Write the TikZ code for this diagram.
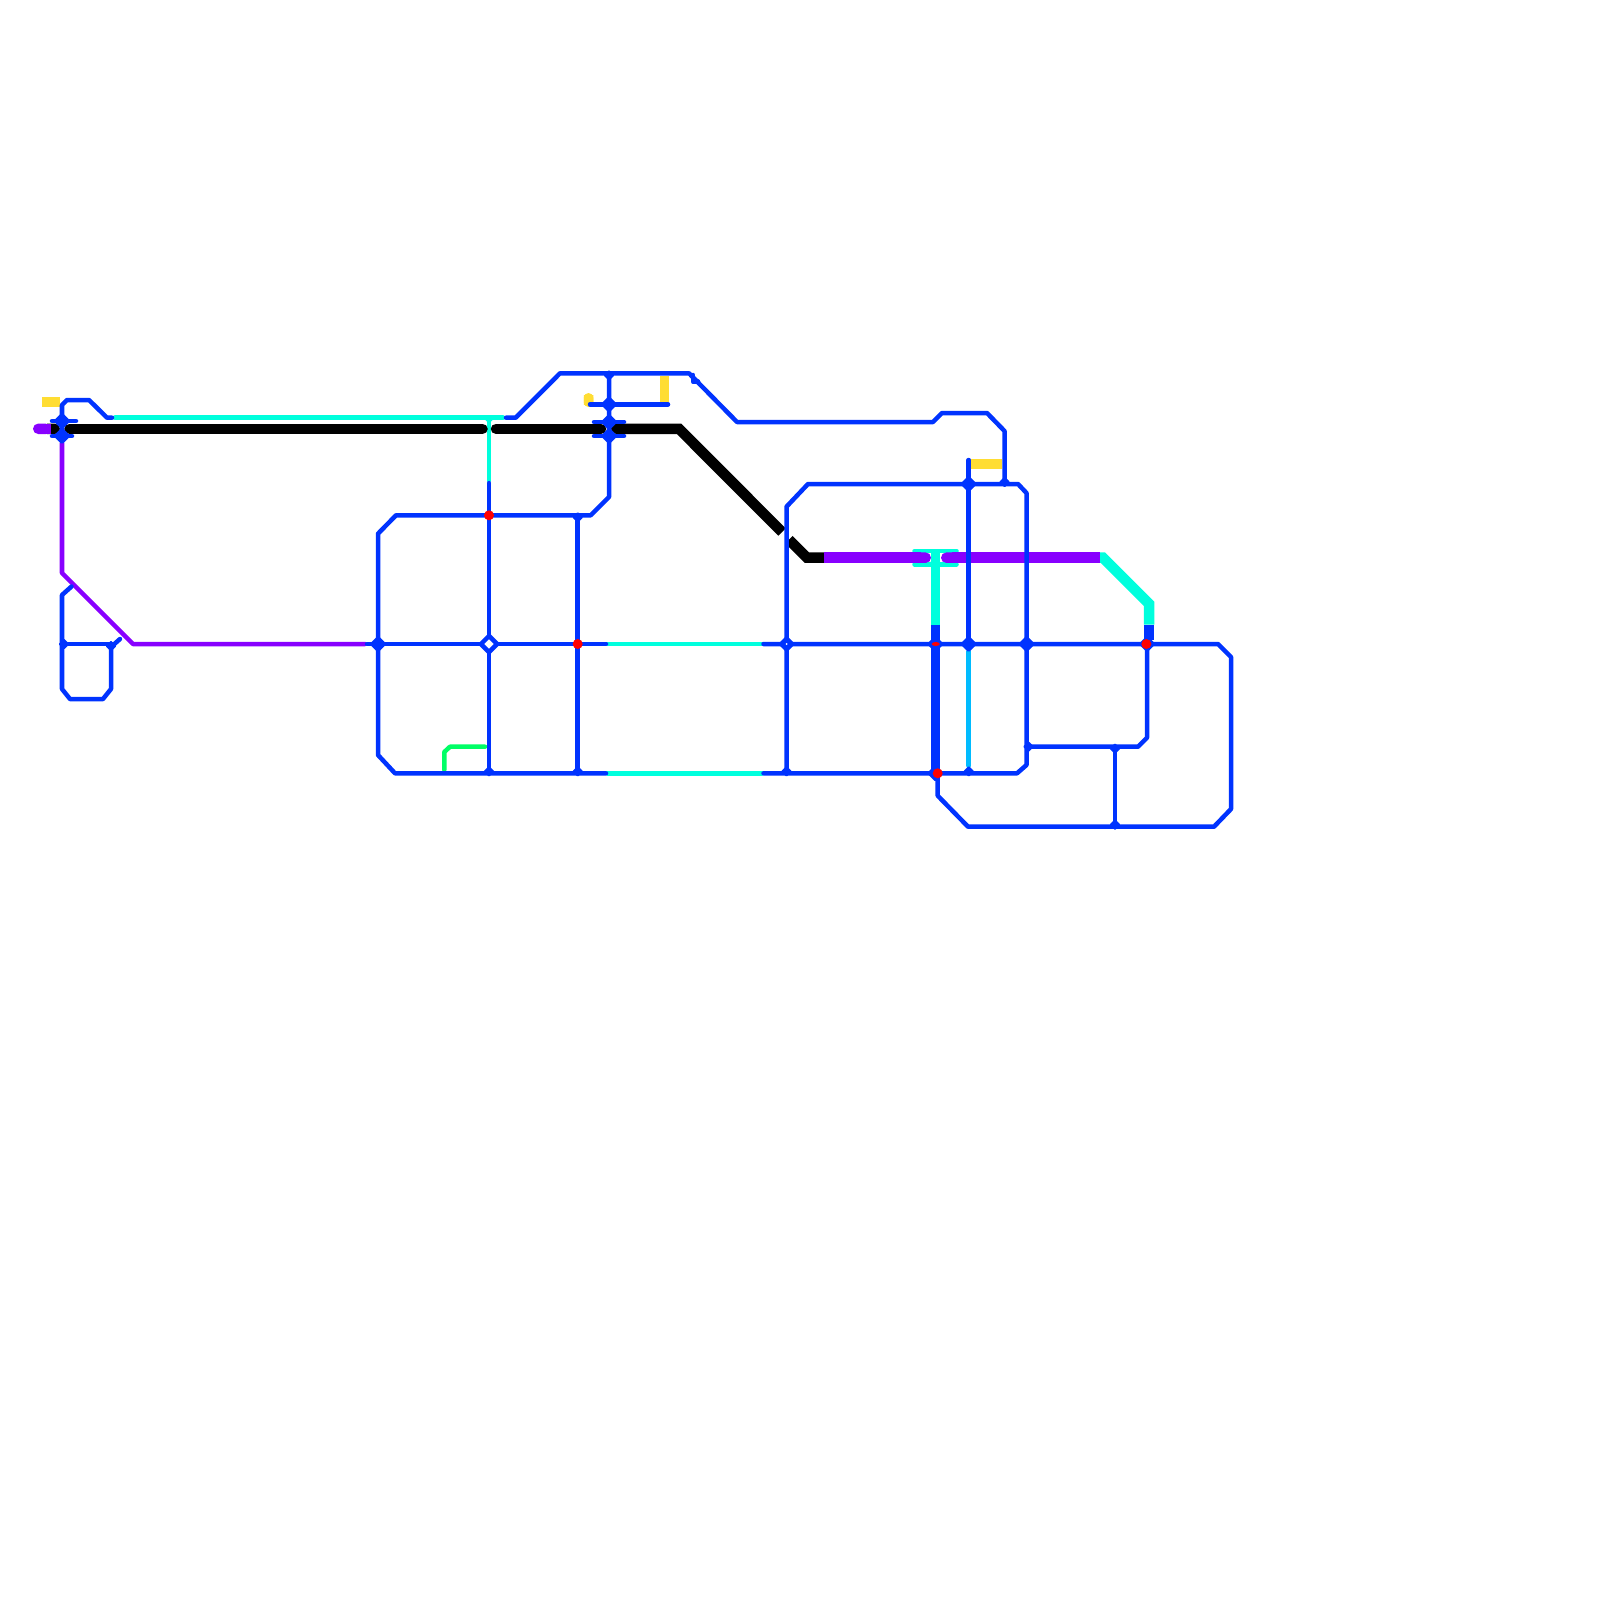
\documentclass[tikz,border=0pt]{standalone}
\usepackage{xcolor}
\usetikzlibrary{arrows.meta,shapes.geometric,backgrounds}
\definecolor{lineblue}{RGB}{0,51,255}
\definecolor{linecyan}{RGB}{0,255,221}
\definecolor{linesky}{RGB}{0,187,255}
\definecolor{linepurple}{RGB}{136,0,255}
\definecolor{lineyellow}{RGB}{255,221,51}
\definecolor{linegreen}{RGB}{0,255,102}
\definecolor{stopred}{RGB}{255,0,0}

\begin{document}
\begin{tikzpicture}[
    x=0.01cm, y=-0.01cm,
    thin line/.style={line width=0.045cm, line join=round, line cap=round},
    thick line/.style={line width=0.095cm, line join=miter},
    wide line/.style={line width=0.105cm, line join=miter},
    blue line/.style={thin line, draw=lineblue},
    junction/.style={diamond, draw=lineblue, fill=lineblue, line width=0.03cm, line join=round, inner sep=0pt, minimum size=0.14cm},
    tee/.style={diamond, draw=lineblue, fill=lineblue, line width=0.02cm, line join=round, inner sep=0pt, minimum size=0.09cm},
    redstop/.style={circle, fill=stopred, inner sep=0pt, minimum size=0.1cm}
]
    \useasboundingbox (0,0) rectangle (1600,1600);

    \node[junction] (westN) at (62,421) {};
    \node[junction] (westS) at (62,436) {};
    \node[junction] (midA) at (609,404.3) {};
    \node[junction] (midN) at (609,422) {};
    \node[junction] (midS) at (609,436) {};
    \node[redstop] (gridN) at (489,515.3) {};
    \node[junction] (gridW) at (378,644) {};
    \node[diamond, draw=lineblue, fill=white, line width=0.045cm, inner sep=0pt, minimum size=0.18cm] (gridC) at (489,644) {};
    \node[redstop] (gridE) at (577.7,644) {};
    \node[junction] (eastW) at (786.5,644) {};
    \node[fill=white, circle, inner sep=0pt, minimum size=0.02cm] (eastDot) at (786.5,644) {};
    \node[junction] (thickN) at (935.3,644) {};
    \node[ellipse, fill=stopred, inner sep=0pt, minimum width=0.08cm, minimum height=0.04cm] (thickDot) at (935.7,644) {};
    \node[junction] (thickS) at (935.3,773.3) {};
    \node[redstop] (thickR) at (937.7,773.3) {};
    \node[junction] (skyN) at (968.7,484) {};
    \node[junction] (skyM) at (968.7,644) {};
    \node[junction] (yardM) at (1026.5,644) {};
    \node[junction] (farE) at (1147,644) {};
    \node[redstop] (farR) at (1146.3,644) {};
    \node[diamond, fill=linecyan, inner sep=0pt, minimum size=0.15cm] (tBar) at (935.3,564.3) {};
    \node[diamond, fill=linecyan, inner sep=0pt, minimum size=0.08cm] (cyanT) at (489,420) {};

    \coordinate (loopW) at (62,644);
    \coordinate (loopE) at (111,644);
    \coordinate (topTee) at (609,373.3);
    \coordinate (gridNE) at (577.7,515.3);
    \coordinate (gridS) at (489,773.3);
    \coordinate (gridSE) at (577.7,773.3);
    \coordinate (eastS) at (786.5,773.3);
    \coordinate (skyS) at (968.7,773.3);
    \coordinate (yardT) at (1004.5,484);
    \coordinate (yardS) at (1026.5,746.7);
    \coordinate (farN) at (1115,746.7);
    \coordinate (farS) at (1115,826.7);

    \node[tee] (loopWmark) at (64,644) {};
    \node[tee] (loopEmark) at (111,646) {};
    \node[tee] (topTeemark) at (609,375.3) {};
    \node[tee] (gridNEmark) at (577.7,517.3) {};
    \node[tee] (gridSmark) at (489,771.3) {};
    \node[tee] (gridSEmark) at (577.7,771.3) {};
    \node[tee] (eastSmark) at (786.5,771.3) {};
    \node[tee] (skySmark) at (968.7,771.3) {};
    \node[tee] (yardTmark) at (1004.5,482) {};
    \node[tee] (yardSmark) at (1028.5,746.7) {};
    \node[tee] (farNmark) at (1115,748.7) {};
    \node[tee] (farSmark) at (1115,824.7) {};

    \coordinate (westBarA) at (52,421);
    \coordinate (westBarB) at (76,421);
    \coordinate (westBarC) at (52,436);
    \coordinate (westBarD) at (72,436);
    \coordinate (westEnd) at (112,417.7);
    \coordinate (midBarA) at (594,422);
    \coordinate (midBarB) at (624,422);
    \coordinate (midBarC) at (594,436);
    \coordinate (midBarD) at (624,436);
    \coordinate (branchW) at (590,404.3);
    \coordinate (branchE) at (668,404.3);
    \coordinate (topStart) at (506,417.7);
    \coordinate (hookA) at (693,375);
    \coordinate (hookB) at (698,381.7);
    \coordinate (gridTop) at (489,483);
    \coordinate (gridEndA) at (367,644);
    \coordinate (gridEndB) at (606,644);
    \coordinate (gridEndC) at (606,773.3);
    \coordinate (eastEndA) at (763.5,644);
    \coordinate (eastEndB) at (763.5,773.3);
    \coordinate (skyTop) at (968.7,460);
    \coordinate (loopStub) at (71.5,586.5);
    \coordinate (loopTip) at (120,639);
    \coordinate (skyA) at (968.7,651.7);
    \coordinate (skyB) at (968.7,765.7);

    \begin{scope}[on background layer]
        \draw[thick line, lineyellow, rounded corners=1pt] (42,402) -- (60,402);
        \draw[thick line, lineyellow] (971,464) -- (1001.7,464);
        \draw[thick line, lineyellow] (664.5,375.7) -- (664.5,401.7);
        \draw[thick line, lineyellow, {Round Cap[]}-{Round Cap[]}] (588.5,393) -- (588.5,407);

        \draw[thin line, linegreen] (444.3,770) -- (444.3,752) -- (450,746.7) -- (485,746.7);

        \draw[thin line, linecyan] (115,417.7) -- (503,417.7);
        \draw[thin line, linecyan] (489,417.7) -- (489,480.7);
        \draw[thin line, linecyan] (607.5,644) -- (762,644);
        \draw[thin line, linecyan] (607.5,773.3) -- (762,773.3);
        \draw[thin line, linecyan] (914.5,551) -- (956.5,551);
        \draw[thin line, linecyan] (914.5,564.3) -- (956.5,564.3);
        \draw[thick line, linecyan] (935.3,551) -- (935.3,624.7);
        \draw[wide line, linecyan] (1100,557.7) -- (1103,557.7) -- (1149,603.7) -- (1149,624.5);
        \draw[thin line, linesky] (skyA) -- (skyB);

        \draw[wide line, -{Round Cap[]}] (51,428.8) -- (60,428.8);
        \draw[wide line, line cap=round] (69.5,428.8) -- (482.5,428.8);
        \draw[wide line, line cap=round] (496,428.8) -- (601,428.8);
        \draw[wide line, {Round Cap[]}-] (611,428.8) -- (679,428.8) -- (782,532);
        \draw[wide line] (789,539.7) -- (807,557.7) -- (824,557.7);

        \draw[wide line, linepurple, {Round Cap[]}-] (33,428.8) -- (51,428.8);
        \draw[wide line, linepurple, -{Round Cap[]}] (824,557.7) -- (931,557.7);
        \draw[wide line, linepurple, {Round Cap[]}-] (941,557.7) -- (1100,557.7);
        \draw[thin line, linepurple] (62,443) -- (62,573) -- (133,644) -- (365,644);

        \draw[thick line, lineblue] (935.3,624.7) -- (thickS.center);
        \draw[thick line, lineblue] (1149,624.5) -- (1149,640);

        \draw[blue line] (westS.center) -- (westN.center) -- (62,405) -- (67,400) -- (89,400) -- (107,417.7) -- (westEnd);
        \draw[blue line] (westBarA) -- (westBarB);
        \draw[blue line] (westBarC) -- (westBarD);
        \draw[blue line] (midBarA) -- (midBarB);
        \draw[blue line] (midBarC) -- (midBarD);
        \draw[blue line] (topStart) -- (515.7,417.7) -- (560,373.3) -- (topTee) -- (689,373.3) -- (737,422) -- (933,422) -- (942,413) -- (987,413) -- (1004.5,431) -- (yardT);
        \draw[blue line] (hookA) -- (693,381.7) -- (hookB);
        \draw[blue line] (topTee) -- (midA.center) -- (midN.center) -- (midS.center) -- (609,497) -- (590.7,515.3) -- (gridNE) -- (gridN.center) -- (396,515.3) -- (378,533.7) -- (gridW.center) -- (378,755) -- (395,773.3) -- (gridS) -- (gridSE) -- (gridEndC);
        \draw[blue line] (branchW) -- (midA.center) -- (branchE);
        \draw[blue line] (gridTop) -- (gridN.center) -- (gridC.center) -- (gridS);
        \draw[blue line] (gridEndA) -- (gridW.center) -- (gridC.center) -- (gridE.center) -- (gridEndB);
        \draw[blue line] (gridNE) -- (gridE.center) -- (gridSE);
        \draw[blue line] (eastEndA) -- (eastW.center) -- (thickN.center) -- (skyM.center) -- (yardM.center) -- (farE.center) -- (1218,644) -- (1231,657) -- (1231,809) -- (1214,826.7) -- (farS) -- (968,826.7) -- (937.7,795.7) -- (thickR.center);
        \draw[blue line] (eastEndB) -- (eastS) -- (thickS.center) -- (skyS) -- (1017,773.3) -- (1026.5,765) -- (yardS) -- (yardM.center) -- (1026.5,493) -- (1018,484) -- (yardT) -- (skyN.center) -- (808,484) -- (786.5,506.7) -- (eastW.center) -- (eastS);
        \draw[blue line] (skyTop) -- (skyN.center) -- (skyM.center);
        \draw[blue line] (yardS) -- (farN) -- (1138,746.7) -- (1147,737.7) -- (farE.center);
        \draw[blue line] (farN) -- (farS);
        \draw[blue line] (loopStub) -- (62,595) -- (loopW) -- (62,689) -- (70,699) -- (103,699) -- (111,689) -- (loopE);
        \draw[blue line] (loopW) -- (loopE);
        \draw[blue line] (111,647) -- (loopTip);
    \end{scope}
\end{tikzpicture}
\end{document}
